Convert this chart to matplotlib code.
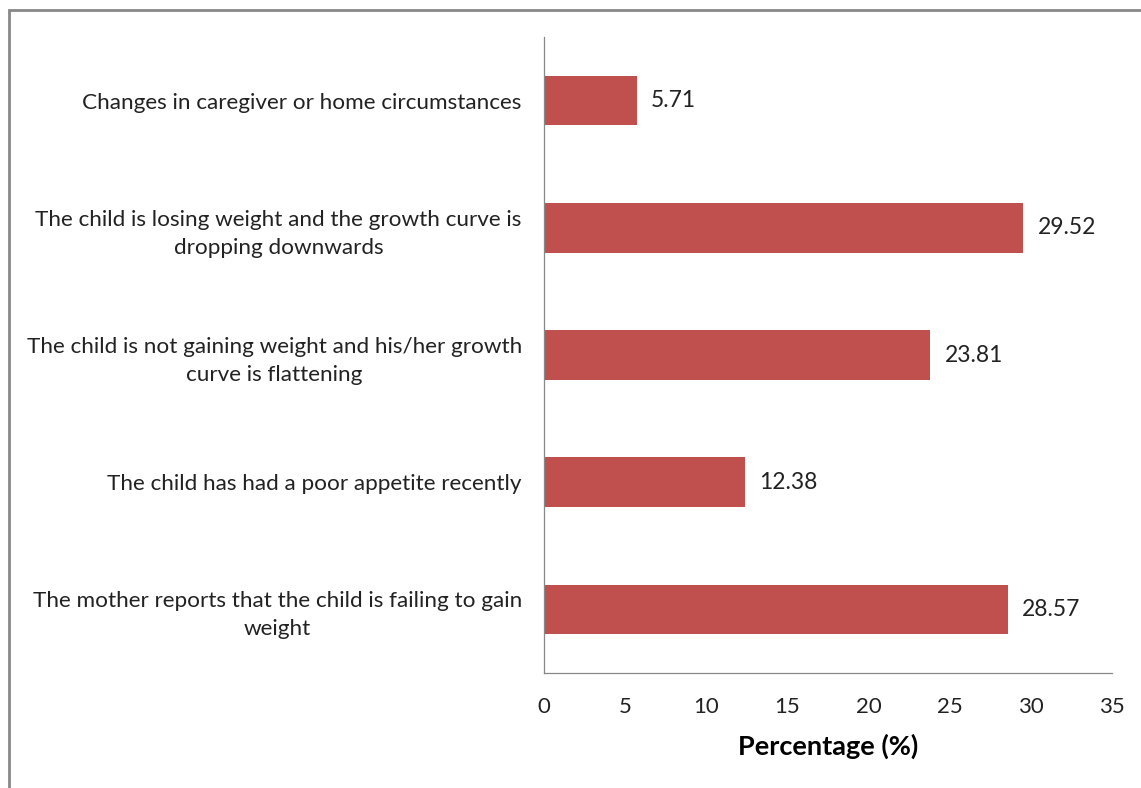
import matplotlib.pyplot as plt
from matplotlib.patches import Rectangle

# categories listed top to bottom
categories = [
    "Changes in caregiver or home circumstances",
    "The child is losing weight and the growth curve is\ndropping downwards",
    "The child is not gaining weight and his/her growth\ncurve is flattening",
    "The child has had a poor appetite recently",
    "The mother reports that the child is failing to gain\nweight",
]
percentages = [5.71, 29.52, 23.81, 12.38, 28.57]
xticks = [0, 5, 10, 15, 20, 25, 30, 35]

plt.rcParams['font.family'] = ['Lato', 'DejaVu Sans']

fig = plt.figure(figsize=(11.41, 7.88), dpi=100)
ax = fig.add_axes([544 / 1141, 1 - 673 / 788, (1112 - 544) / 1141, (673 - 37) / 788])

ypos = list(range(len(categories)))
ax.barh(ypos, percentages, height=0.39, color='#C0504D')
for y, v in zip(ypos, percentages):
    ax.text(v + 0.9, y, f"{v:.2f}", va='center', ha='left', fontsize=16.5, color='#222222')

ax.set_xlim(0, 35)
ax.set_ylim(len(categories) - 0.5, -0.5)
ax.set_xticks(xticks)
ax.set_xticklabels([str(t) for t in xticks], fontsize=16, color='#222222')
ax.set_yticks(ypos)
ax.set_yticklabels(categories, fontsize=16.2, color='#222222',
                   multialignment='center', linespacing=1.5)
ax.tick_params(axis='both', length=0)
ax.tick_params(axis='y', pad=16)
ax.tick_params(axis='x', pad=17)

for side in ['top', 'right']:
    ax.spines[side].set_visible(False)
for side in ['left', 'bottom']:
    ax.spines[side].set_color('#888888')
    ax.spines[side].set_linewidth(0.9)

ax.set_xlabel("Percentage (%)", fontsize=19.5, fontweight='bold', labelpad=12)

# outer frame, cut off at right and bottom
fig.patches.append(Rectangle((8.5 / 1141, -0.1), 1.2, 1.1 - 9.5 / 788,
                             transform=fig.transFigure, fill=False,
                             edgecolor='#888888', linewidth=2))

fig.savefig('out.png', dpi=100)
